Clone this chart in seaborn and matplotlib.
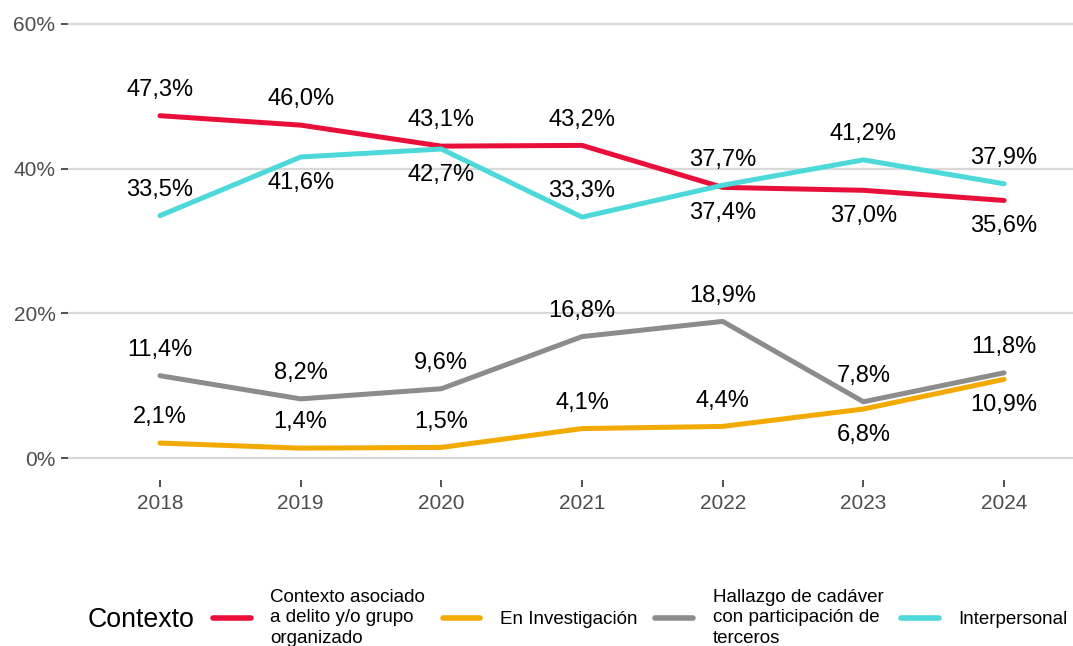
import pandas as pd
import matplotlib
matplotlib.use("Agg")
import matplotlib.pyplot as plt
import seaborn as sns

years = [2018, 2019, 2020, 2021, 2022, 2023, 2024]
contextos = [
    'Contexto asociado\na delito y/o grupo\norganizado',
    'En Investigación',
    'Hallazgo de cadáver\ncon participación de\nterceros',
    'Interpersonal',
]
delito = [47.3, 46.0, 43.1, 43.2, 37.4, 37.0, 35.6]
investigacion = [2.1, 1.4, 1.5, 4.1, 4.4, 6.8, 10.9]
hallazgo = [11.4, 8.2, 9.6, 16.8, 18.9, 7.8, 11.8]
interpersonal = [33.5, 41.6, 42.7, 33.3, 37.7, 41.2, 37.9]
series = [delito, investigacion, hallazgo, interpersonal]

# which side of the line each label sits on (1 = above, -1 = below)
label_side = [
    [1, 1, 1, 1, -1, -1, -1],
    [1, 1, 1, 1, 1, -1, -1],
    [1, 1, 1, 1, 1, 1, 1],
    [1, -1, -1, 1, 1, 1, 1],
]
colores = ['#E8103A', '#F2A900', '#8C8C8C', '#4DD9D9']

df = pd.DataFrame({
    'Año': years * 4,
    'Porcentaje': delito + investigacion + hallazgo + interpersonal,
    'Contexto': [c for c in contextos for _ in years],
})

sns.set_theme(style="whitegrid")
plt.rcParams['font.family'] = ['Liberation Sans', 'DejaVu Sans']

fig = plt.figure(figsize=(10.73, 6.46), dpi=100)
ax = fig.add_axes([68 / 1073, 1 - 480 / 646, 1 - 68 / 1073, 478 / 646])

sns.lineplot(data=df, x='Año', y='Porcentaje', hue='Contexto', palette=colores,
             linewidth=3.6, ax=ax, legend=False)

# etiquetas de valores
for vals, sides in zip(series, label_side):
    for yr, v, s in zip(years, vals, sides):
        ax.annotate(f"{v:.1f}%".replace('.', ','), (yr, v), xytext=(0, 18.5 * s),
                    textcoords='offset points', ha='center', va='center',
                    fontsize=17, color='black')

ax.set_xlim(2018 - 0.654, 2024 + 0.49)
ax.set_ylim(-3, 63)
ax.set_xticks(years)
ax.set_yticks([0, 20, 40, 60])
ax.set_yticklabels(['0%', '20%', '40%', '60%'])
ax.set_xlabel('')
ax.set_ylabel('')
ax.grid(axis='x', visible=False)
ax.grid(axis='y', color='#D9D9D9', linewidth=1.6)
for sp in ax.spines.values():
    sp.set_visible(False)
ax.tick_params(axis='both', which='major', length=5, width=1.2, color='#333333',
               labelsize=15, labelcolor='#4D4D4D', pad=4, bottom=True, left=True)
ax.tick_params(axis='x', pad=5)

# leyenda
handles = [plt.Line2D([], [], color=c, linewidth=4) for c in colores]
leg = fig.legend(handles, contextos, loc='center left', ncol=4,
                 bbox_to_anchor=(213 / 1073, 1 - 618 / 646), frameon=False,
                 fontsize=13.5, handlelength=2.0, handletextpad=1.05,
                 columnspacing=0.95, borderaxespad=0, borderpad=0)
for t in leg.get_texts():
    t.set_linespacing(1.25)
    t.set_color('black')
fig.text(88 / 1073, 1 - 620 / 646, 'Contexto', fontsize=19.3, ha='left', va='center',
         color='black')

fig.savefig('out.png', dpi=100)
